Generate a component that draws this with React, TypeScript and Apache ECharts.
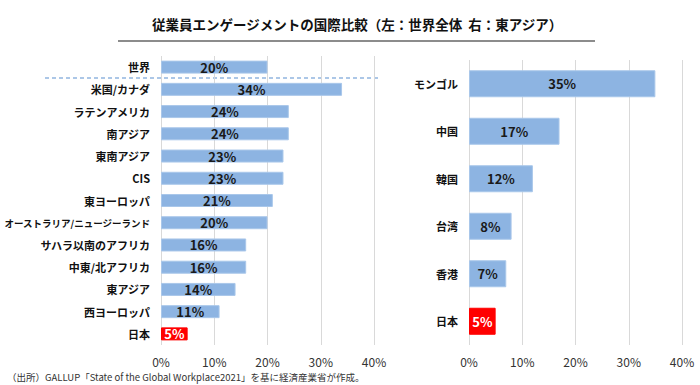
import React, { useEffect, useRef } from "react";
import * as echarts from "echarts";

const worldCategories = ["世界", "米国/カナダ", "ラテンアメリカ", "南アジア", "東南アジア", "CIS", "東ヨーロッパ", "オーストラリア/ニュージーランド", "サハラ以南のアフリカ", "中東/北アフリカ", "東アジア", "西ヨーロッパ", "日本"];
const worldValues = [20, 34, 24, 24, 23, 23, 21, 20, 16, 16, 14, 11, 5];
const eastAsiaCategories = ["モンゴル", "中国", "韓国", "台湾", "香港", "日本"];
const eastAsiaValues = [35, 17, 12, 8, 7, 5];
const xTicks = [0, 10, 20, 30, 40];

const FONT = "'Noto Sans CJK JP', 'Noto Sans', sans-serif";
const BLUE = "#8DB4E2";
const RED = "#FF0000";

function barData(cats: string[], vals: number[]) {
  return vals.map((v, i) => {
    const jp = cats[i] === "日本";
    return {
      value: v,
      itemStyle: { color: jp ? RED : BLUE, borderColor: jp ? RED : "#A9C7EA", borderWidth: 1 },
      label: { color: jp ? "#ffffff" : "#1a1a1a" },
    };
  });
}

export default function App() {
  const ref = useRef<HTMLDivElement>(null);
  useEffect(() => {
    if (!ref.current) return;
    const chart = echarts.init(ref.current, null, { renderer: "svg" });
    const xAxisCommon = {
      type: "value" as const,
      min: xTicks[0],
      max: xTicks[xTicks.length - 1],
      interval: 10,
      axisLine: { show: false },
      axisTick: { show: false },
      splitLine: { show: true, lineStyle: { color: "#D9D9D9", width: 1 } },
      axisLabel: { formatter: "{value}%", color: "#333", fontSize: 12, fontFamily: FONT, margin: 10 },
    };
    const yAxisCommon = {
      type: "category" as const,
      inverse: true,
      axisLine: { show: false },
      axisTick: { show: false },
      axisLabel: {
        color: "#111",
        fontSize: 11,
        fontWeight: "bold" as const,
        fontFamily: FONT,
        margin: 11,
        formatter: (v: string) => (v.length > 12 ? `{s|${v}}` : v),
        rich: { s: { fontSize: 9.5, fontWeight: "bold", fontFamily: FONT, color: "#111" } },
      },
    };
    const labelCommon = {
      show: true,
      position: "inside" as const,
      formatter: "{c}%",
      fontSize: 13,
      fontWeight: "bold" as const,
      fontFamily: FONT,
    };
    chart.setOption({
      animation: false,
      backgroundColor: "#ffffff",
      grid: [
        { left: 161, right: 326, top: 56, bottom: 40, containLabel: false, outerBoundsMode: "none" },
        { left: 469, right: 18, top: 60, bottom: 40, containLabel: false, outerBoundsMode: "none" },
      ],
      xAxis: [
        { ...xAxisCommon, gridIndex: 0 },
        { ...xAxisCommon, gridIndex: 1 },
      ],
      yAxis: [
        { ...yAxisCommon, gridIndex: 0, data: worldCategories },
        { ...yAxisCommon, gridIndex: 1, data: eastAsiaCategories },
      ],
      series: [
        {
          type: "bar",
          xAxisIndex: 0,
          yAxisIndex: 0,
          barWidth: 13,
          data: barData(worldCategories, worldValues),
          label: labelCommon,
        },
        {
          type: "bar",
          xAxisIndex: 1,
          yAxisIndex: 1,
          barWidth: 27,
          data: barData(eastAsiaCategories, eastAsiaValues),
          label: labelCommon,
        },
      ],
      graphic: [
        {
          type: "text",
          left: 152,
          top: 17,
          style: {
            text: "従業員エンゲージメントの国際比較（左：世界全体  右：東アジア）",
            fontSize: 13.5,
            fontWeight: "bold",
            fontFamily: FONT,
            fill: "#111",
          },
        },
        {
          type: "line",
          shape: { x1: 118, y1: 41, x2: 595, y2: 41 },
          style: { stroke: "#666", lineWidth: 1.5 },
        },
        {
          type: "line",
          shape: { x1: 45, y1: 78, x2: 378, y2: 78 },
          style: { stroke: "#5B8FD0", lineWidth: 1.2, lineDash: [4, 3] },
        },
        {
          type: "text",
          left: 7,
          top: 372,
          style: {
            text: "（出所）GALLUP「State of the Global Workplace2021」を基に経済産業省が作成。",
            fontSize: 9.5,
            fontFamily: FONT,
            fill: "#333",
          },
        },
      ],
    });
    return () => chart.dispose();
  }, []);
  return <div ref={ref} style={{ width: 700, height: 385, position: "absolute", left: 0, top: 0 }} />;
}
